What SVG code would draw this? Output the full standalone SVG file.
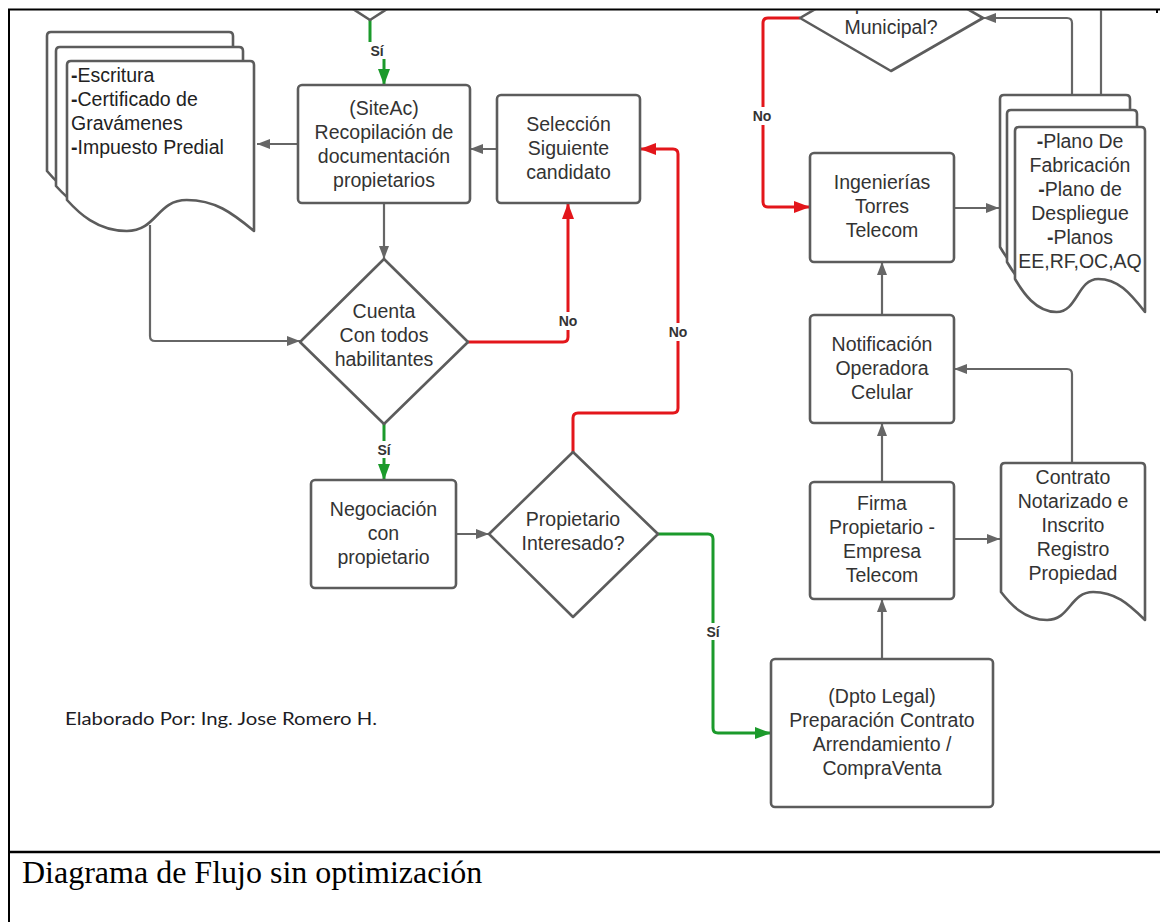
<svg xmlns="http://www.w3.org/2000/svg" width="1160" height="922" viewBox="0 0 1160 922">
  <style>
    .node { fill: #fff; stroke: #5c5c5c; stroke-width: 2.6; stroke-linejoin: round; }
    .t { font-family: "Liberation Sans", Arial, sans-serif; font-size: 19.5px; fill: #333; text-anchor: middle; }
    .tl { text-anchor: start; fill: #222; }
    .b { font-weight: bold; }
    .c { fill: none; stroke: #666; stroke-width: 2.2; }
    .red { stroke: #e3161b; stroke-width: 3; }
    .green { stroke: #1b9a2b; stroke-width: 3; }
    .lbl { font-family: "Liberation Sans", Arial, sans-serif; font-weight: bold; font-size: 14px; fill: #333; text-anchor: middle; }
    .lblbg { fill: #fff; }
    .frame { stroke: #000; fill: none; }
  </style>
  <defs>
    <marker id="ag" viewBox="0 0 13 10" refX="13" refY="5" markerWidth="13" markerHeight="10" markerUnits="userSpaceOnUse" orient="auto">
      <path d="M0,0 L13,5 L0,10 z" fill="#666"/>
    </marker>
    <marker id="ar" viewBox="0 0 16 12" refX="16" refY="6" markerWidth="16" markerHeight="12" markerUnits="userSpaceOnUse" orient="auto">
      <path d="M0,0 L16,6 L0,12 z" fill="#e3161b"/>
    </marker>
    <marker id="agr" viewBox="0 0 16 12" refX="16" refY="6" markerWidth="16" markerHeight="12" markerUnits="userSpaceOnUse" orient="auto">
      <path d="M0,0 L16,6 L0,12 z" fill="#1b9a2b"/>
    </marker>
    <clipPath id="cell">
      <rect x="10" y="10.5" width="1150" height="840"/>
    </clipPath>
  </defs>

  <rect width="1160" height="922" fill="#fff"/>

  <g clip-path="url(#cell)">
    <!-- connectors -->
    <g id="connectors">
      <path class="c green" d="M370,9 V44 Q370,47 373,47 H381 Q384,47 384,50 V85" marker-end="url(#agr)"/>
      <path class="c" d="M298,144 H257" marker-end="url(#ag)"/>
      <path class="c" d="M384,203 V259" marker-end="url(#ag)"/>
      <path class="c" d="M150,225 V336 Q150,341 155,341 H300" marker-end="url(#ag)"/>
      <path class="c" d="M497,149 H470" marker-end="url(#ag)"/>
      <path class="c red" d="M468,342 H563 Q568,342 568,337 V203" marker-end="url(#ar)"/>
      <path class="c red" d="M573,452 V418 Q573,413 578,413 H673 Q678,413 678,408 V154 Q678,149 673,149 H640" marker-end="url(#ar)"/>
      <path class="c green" d="M384,424 V480" marker-end="url(#agr)"/>
      <path class="c" d="M456,534 H489" marker-end="url(#ag)"/>
      <path class="c green" d="M658,534 H708 Q713,534 713,539 V728 Q713,733 718,733 H771" marker-end="url(#agr)"/>
      <path class="c" d="M882,659 V599" marker-end="url(#ag)"/>
      <path class="c" d="M882,482 V423" marker-end="url(#ag)"/>
      <path class="c" d="M882,315 V262" marker-end="url(#ag)"/>
      <path class="c" d="M954,539 H1000" marker-end="url(#ag)"/>
      <path class="c" d="M1072,463 V374 Q1072,369 1067,369 H954" marker-end="url(#ag)"/>
      <path class="c" d="M954,208 H999" marker-end="url(#ag)"/>
      <path class="c" d="M1072,100 V23 Q1072,18 1067,18 H983" marker-end="url(#ag)"/>
      <path class="c" d="M1101,100 V0"/>
      <path class="c red" d="M800,18 H768 Q763,18 763,23 V202 Q763,207 768,207 H810" marker-end="url(#ar)"/>

      <!-- branch labels -->
      <rect class="lblbg" x="368" y="42" width="18" height="17"/>
      <text class="lbl" x="377" y="56">Sí</text>
      <rect class="lblbg" x="556" y="312" width="24" height="18"/>
      <text class="lbl" x="568" y="326">No</text>
      <rect class="lblbg" x="666" y="323" width="24" height="18"/>
      <text class="lbl" x="678" y="337">No</text>
      <rect class="lblbg" x="375" y="441" width="18" height="17"/>
      <text class="lbl" x="384" y="455">Sí</text>
      <rect class="lblbg" x="704" y="623" width="18" height="17"/>
      <text class="lbl" x="713" y="637">Sí</text>
      <rect class="lblbg" x="750" y="107" width="24" height="18"/>
      <text class="lbl" x="762" y="121">No</text>
    </g>

    <!-- decision above, cut by the cell edge -->
    <g id="decision-top">
      <path class="node" d="M339,0 L370,20 L401,0"/>
    </g>

    <g id="aprobacion-municipal">
      <polygon class="node" points="891,-35 983,18 891,71 800,18"/>
      <text class="t" x="891" y="10">Aprobación</text>
      <text class="t" x="891" y="34">Municipal?</text>
    </g>

    <g id="docs-propiedad">
      <path class="node" d="M47,36 Q47,32 51,32 H229 Q233,32 233,36 V202 C210.6,183.4 193.7,171 165.7,171 C135.8,171 135.8,202 105.8,202 C75.9,202 57.2,183.4 47,171 Z"/>
      <path class="node" d="M56,51 Q56,47 60,47 H239 Q243,47 243,51 V217 C220.6,198.4 203.7,186 175.7,186 C145.8,186 145.8,217 115.8,217 C85.9,217 67.2,198.4 56,186 Z"/>
      <path class="node" d="M67,65 Q67,61 71,61 H250 Q254,61 254,65 V231 C231.6,212.4 214.7,200 186.7,200 C156.8,200 156.8,231 126.8,231 C96.9,231 78.2,212.4 67,200 Z"/>
      <text class="t tl" x="71" y="82"><tspan class="b">-</tspan>Escritura</text>
      <text class="t tl" x="71" y="106"><tspan class="b">-</tspan>Certificado de</text>
      <text class="t tl" x="71" y="130">Gravámenes</text>
      <text class="t tl" x="71" y="154"><tspan class="b">-</tspan>Impuesto Predial</text>
    </g>

    <g id="siteac">
      <rect class="node" x="298" y="85" width="172" height="118" rx="4"/>
      <text class="t" x="384" y="115">(SiteAc)</text>
      <text class="t" x="384" y="139">Recopilación de</text>
      <text class="t" x="384" y="163">documentación</text>
      <text class="t" x="384" y="187">propietarios</text>
    </g>

    <g id="seleccion">
      <rect class="node" x="497" y="95" width="143" height="108" rx="4"/>
      <text class="t" x="568.5" y="131">Selección</text>
      <text class="t" x="568.5" y="155">Siguiente</text>
      <text class="t" x="568.5" y="179">candidato</text>
    </g>

    <g id="cuenta-habilitantes">
      <polygon class="node" points="384,259 468,342 384,424 300,342"/>
      <text class="t" x="384" y="318">Cuenta</text>
      <text class="t" x="384" y="342">Con todos</text>
      <text class="t" x="384" y="366">habilitantes</text>
    </g>

    <g id="negociacion">
      <rect class="node" x="311" y="480" width="145" height="108" rx="4"/>
      <text class="t" x="383.5" y="516">Negociación</text>
      <text class="t" x="383.5" y="540">con</text>
      <text class="t" x="383.5" y="564">propietario</text>
    </g>

    <g id="propietario-interesado">
      <polygon class="node" points="573,452 658,534 573,617 489,534"/>
      <text class="t" x="573" y="526">Propietario</text>
      <text class="t" x="573" y="550">Interesado?</text>
    </g>

    <g id="ingenierias">
      <rect class="node" x="810" y="153" width="144" height="109" rx="4"/>
      <text class="t" x="882" y="189">Ingenierías</text>
      <text class="t" x="882" y="213">Torres</text>
      <text class="t" x="882" y="237">Telecom</text>
    </g>

    <g id="docs-planos">
      <path class="node" d="M1000,99 Q1000,95 1004,95 H1126 Q1130,95 1130,99 V280 C1114.4,260.2 1102.7,247 1083.2,247 C1062.4,247 1062.4,280 1041.6,280 C1020.8,280 1007.8,260.2 1000,247 Z"/>
      <path class="node" d="M1007,114 Q1007,110 1011,110 H1133 Q1137,110 1137,114 V295 C1121.4,275.2 1109.7,262 1090.2,262 C1069.4,262 1069.4,295 1048.6,295 C1027.8,295 1014.8,275.2 1007,262 Z"/>
      <path class="node" d="M1015,131 Q1015,127 1019,127 H1141 Q1145,127 1145,131 V312 C1129.4,292.2 1117.7,279 1098.2,279 C1077.4,279 1077.4,312 1056.6,312 C1035.8,312 1022.8,292.2 1015,279 Z"/>
      <text class="t" x="1080" y="148"><tspan class="b">-</tspan>Plano De</text>
      <text class="t" x="1080" y="172">Fabricación</text>
      <text class="t" x="1080" y="196"><tspan class="b">-</tspan>Plano de</text>
      <text class="t" x="1080" y="220">Despliegue</text>
      <text class="t" x="1080" y="244"><tspan class="b">-</tspan>Planos</text>
      <text class="t" x="1080" y="268">EE,RF,OC,AQ</text>
    </g>

    <g id="notificacion">
      <rect class="node" x="810" y="315" width="144" height="108" rx="4"/>
      <text class="t" x="882" y="351">Notificación</text>
      <text class="t" x="882" y="375">Operadora</text>
      <text class="t" x="882" y="399">Celular</text>
    </g>

    <g id="firma">
      <rect class="node" x="810" y="482" width="144" height="117" rx="4"/>
      <text class="t" x="882" y="510">Firma</text>
      <text class="t" x="882" y="534">Propietario -</text>
      <text class="t" x="882" y="558">Empresa</text>
      <text class="t" x="882" y="582">Telecom</text>
    </g>

    <g id="contrato-notarizado">
      <path class="node" d="M1001,467 Q1001,463 1005,463 H1141 Q1145,463 1145,467 V620 C1127.7,603.2 1114.8,592 1093.2,592 C1070.1,592 1070.1,620 1047.1,620 C1024,620 1009.6,603.2 1001,592 Z"/>
      <text class="t" x="1073" y="484">Contrato</text>
      <text class="t" x="1073" y="508">Notarizado e</text>
      <text class="t" x="1073" y="532">Inscrito</text>
      <text class="t" x="1073" y="556">Registro</text>
      <text class="t" x="1073" y="580">Propiedad</text>
    </g>

    <g id="dpto-legal">
      <rect class="node" x="771" y="659" width="222" height="148" rx="4"/>
      <text class="t" x="882" y="703">(Dpto Legal)</text>
      <text class="t" x="882" y="727">Preparación Contrato</text>
      <text class="t" x="882" y="751">Arrendamiento /</text>
      <text class="t" x="882" y="775">CompraVenta</text>
    </g>

    <text x="65" y="725" font-family="Lato, 'Open Sans', sans-serif" font-size="18" fill="#1c1c24" textLength="312" lengthAdjust="spacingAndGlyphs">Elaborado Por: Ing. Jose Romero H.</text>
  </g>

  <!-- table frame -->
  <path class="frame" stroke-width="2" d="M8,9.5 H1160 M1157,9 V13"/>
  <path class="frame" stroke-width="2" d="M9,9 V922"/>
  <path class="frame" stroke-width="2.5" d="M9,852 H1160"/>
  <text x="22" y="883" font-family="'Liberation Serif', 'Times New Roman', serif" font-size="32" fill="#000">Diagrama de Flujo sin optimización</text>
</svg>
